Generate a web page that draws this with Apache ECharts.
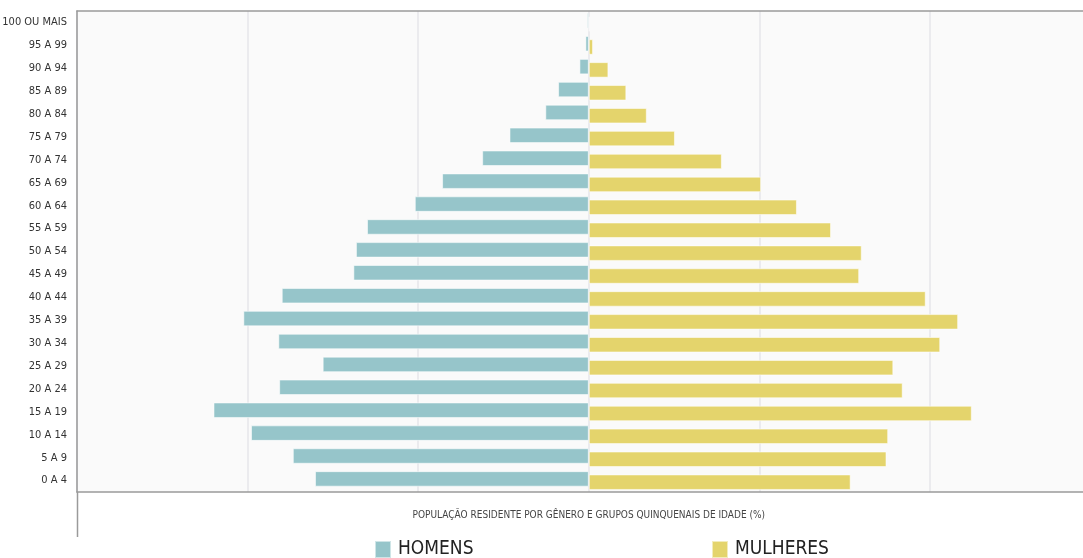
<!DOCTYPE html>
<html>
<head>
<meta charset="utf-8">
<script src="https://cdn.jsdelivr.net/npm/echarts@6/dist/echarts.min.js"></script>
<style>
  html, body { margin: 0; padding: 0; background: #ffffff; }
  #chart { width: 1083px; height: 558px; }
</style>
</head>
<body>
<div id="chart"></div>
<script>
// Age groups, youngest first (drawn bottom to top)
const ageGroups = ['0 A 4', '5 A 9', '10 A 14', '15 A 19', '20 A 24', '25 A 29', '30 A 34',
  '35 A 39', '40 A 44', '45 A 49', '50 A 54', '55 A 59', '60 A 64', '65 A 69', '70 A 74',
  '75 A 79', '80 A 84', '85 A 89', '90 A 94', '95 A 99', '100 OU MAIS'];

// Share of the resident population (%) per group
const homens = [3.21, 3.47, 3.96, 4.40, 3.63, 3.12, 3.64, 4.05, 3.60, 2.76, 2.73,
  2.60, 2.04, 1.72, 1.25, 0.93, 0.51, 0.36, 0.11, 0.04, 0.02];
const mulheres = [3.07, 3.49, 3.51, 4.49, 3.68, 3.57, 4.12, 4.33, 3.95, 3.17, 3.20,
  2.84, 2.44, 2.02, 1.56, 1.01, 0.68, 0.44, 0.23, 0.05, 0.01];

const seriesNames = ['HOMENS', 'MULHERES'];
const axisTitle = 'POPULAÇÃO RESIDENTE POR GÊNERO E GRUPOS QUINQUENAIS DE IDADE (%)';

const FONT = '"Liberation Sans Narrow", "DejaVu Sans Condensed", "Roboto Condensed", sans-serif';
const COLOR_H = '#96c5ca';
const COLOR_M = '#e4d46c';

const chart = echarts.init(document.getElementById('chart'), null, { renderer: 'canvas' });

const legendText = { fontFamily: FONT, fontSize: 19, color: '#222222', padding: [0, 0, 0, 2] };

// The plot runs past the right edge of the canvas: the ±6 % frame is symmetric
// around zero, and its right-hand part is clipped by the page.
chart.setOption({
  animation: false,
  backgroundColor: '#ffffff',
  textStyle: { fontFamily: FONT },
  grid: {
    left: 77, right: -17.6, top: 11, bottom: 66,
    outerBoundsMode: 'none', containLabel: false,
    show: true, backgroundColor: '#fafafa', borderWidth: 0, borderColor: 'transparent'
  },
  legend: [
    {
      data: [seriesNames[0]], left: 369, top: 535,
      icon: 'rect', itemWidth: 16, itemHeight: 17,
      textStyle: legendText
    },
    {
      data: [seriesNames[1]], left: 706, top: 535,
      icon: 'rect', itemWidth: 16, itemHeight: 17,
      textStyle: legendText
    }
  ],
  xAxis: [
    {
      type: 'value', position: 'bottom',
      min: -6, max: 6, interval: 2,
      name: axisTitle, nameLocation: 'middle', nameGap: 18,
      nameTextStyle: { fontFamily: FONT, fontSize: 10, color: '#444444' },
      axisLine: { show: true, onZero: false, lineStyle: { color: '#9a9a9a', width: 1.5 } },
      axisTick: { show: false },
      axisLabel: { show: false },
      splitLine: { show: true, lineStyle: { color: '#e6e6ea', width: 1.5 } }
    },
    {
      type: 'value', position: 'top',
      min: -6, max: 6, interval: 2,
      axisLine: { show: true, onZero: false, lineStyle: { color: '#9a9a9a', width: 1.5 } },
      axisTick: { show: false },
      axisLabel: { show: false },
      splitLine: { show: false }
    }
  ],
  yAxis: {
    type: 'category',
    data: ageGroups,
    axisLine: { show: true, onZero: false, lineStyle: { color: '#9a9a9a', width: 1.5 } },
    axisTick: { show: false },
    axisLabel: { fontFamily: FONT, fontSize: 11, color: '#333333', margin: 10 },
    splitLine: { show: false }
  },
  graphic: [
    {
      // left rule continues down past the plot frame
      type: 'line', z: 10,
      shape: { x1: 77.5, y1: 492, x2: 77.5, y2: 537 },
      style: { stroke: '#9a9a9a', lineWidth: 1.5 }
    }
  ],
  series: [
    {
      name: seriesNames[0], type: 'bar',
      data: homens.map(v => -v),
      barWidth: 15.5, barGap: '-79%',
      itemStyle: { color: COLOR_H, borderColor: 'rgba(255,255,255,0.55)', borderWidth: 1 }
    },
    {
      name: seriesNames[1], type: 'bar',
      data: mulheres,
      barWidth: 15.5, barGap: '-79%',
      itemStyle: { color: COLOR_M, borderColor: 'rgba(255,255,255,0.55)', borderWidth: 1 }
    }
  ]
});
</script>
</body>
</html>
